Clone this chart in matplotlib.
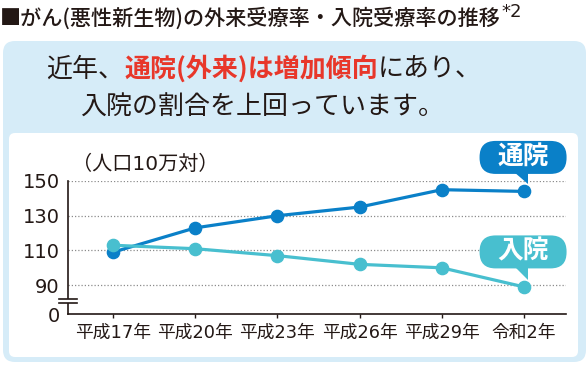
import matplotlib
matplotlib.use("Agg")
import matplotlib.pyplot as plt
from matplotlib.patches import FancyBboxPatch, Polygon, Rectangle
from matplotlib.lines import Line2D

plt.rcParams['font.family'] = ['Noto Sans CJK JP', 'DejaVu Sans']
MIX = ['DejaVu Sans', 'Noto Sans CJK JP']   # wide digits + CJK glyphs

# ---- data ----
years = ["平成17年", "平成20年", "平成23年", "平成26年", "平成29年", "令和2年"]
outpatient = [109, 123, 130, 135, 145, 144]   # 通院(外来)
inpatient = [113, 111, 107, 102, 100, 89]     # 入院
yticks = [90, 110, 130, 150]
zero_pos = 73.4   # where the "0" label sits below the axis break

title = "■がん(悪性新生物)の外来受療率・入院受療率の推移"
title_sup = "*2"
unit_label = "（人口10万対）"

C_OUT = "#0a80c8"
C_IN = "#48bfcf"
C_TXT = "#231815"
C_RED = "#e8372a"
C_PANEL = "#d6ecf8"

W, H = 586, 366
fig = plt.figure(figsize=(W / 100, H / 100), dpi=100)
renderer = fig.canvas.get_renderer()

# overlay axes in pixel coordinates (origin top-left)
bg = fig.add_axes([0, 0, 1, 1], zorder=0)
bg.set_xlim(0, W)
bg.set_ylim(H, 0)
bg.axis("off")

bg.add_patch(FancyBboxPatch((3, 41), 583, 321, boxstyle="round,pad=0,rounding_size=12",
                            fc=C_PANEL, ec="none"))
bg.add_patch(FancyBboxPatch((9, 133), 569, 224, boxstyle="round,pad=0,rounding_size=6",
                            fc="white", ec="none"))

bg.text(0, 19, title, fontsize=15.2, fontweight="medium", color=C_TXT, va="center", ha="left")
bg.text(501, 12, title_sup, fontsize=13, color=C_TXT, va="center", ha="left", family=MIX)

# headline line 1 (mixed colours), laid out piece by piece
fs_h = 18.7
pieces = [("近年、", C_TXT, "normal"),
          ("通院(外来)は増加傾向", C_RED, "bold"),
          ("にあり、", C_TXT, "normal")]
arts = []
total = 0
for s, c, w in pieces:
    t = bg.text(0, 69, s, fontsize=fs_h, color=c, fontweight=w, ha="left", va="center")
    wd = t.get_window_extent(renderer).width
    arts.append((t, wd))
    total += wd
cursor = 264 - total / 2
for t, wd in arts:
    t.set_x(cursor)
    cursor += wd

bg.text(262, 107, "入院の割合を上回っています。", fontsize=fs_h, color=C_TXT, ha="center", va="center")

bg.text(72, 164, unit_label, fontsize=14.5, color=C_TXT, ha="left", va="center", family=MIX)

# ---- chart axes ----
ax = fig.add_axes([68 / W, (H - 314) / H, (566 - 68) / W, (314 - 181) / H], zorder=1)
ax.set_facecolor("none")
x = list(range(len(years)))
ax.set_xlim(-0.547, 5.51)
ax.set_ylim(zero_pos, 150)

for v in yticks:
    ax.axhline(v, color="#8c8c8c", lw=0.9, ls=(0, (1, 1.6)), zorder=1)

ax.plot(x, outpatient, color=C_OUT, lw=2.3, marker="o", ms=8.8, zorder=3, clip_on=False)
ax.plot(x, inpatient, color=C_IN, lw=2.3, marker="o", ms=8.8, zorder=4, clip_on=False)

for s in ["top", "right"]:
    ax.spines[s].set_visible(False)
for s in ["left", "bottom"]:
    ax.spines[s].set_color(C_TXT)
    ax.spines[s].set_linewidth(1.2)

ax.set_xticks(x)
ax.set_xticklabels(years, fontsize=12.8, color=C_TXT, family=MIX)
ax.tick_params(axis="x", length=3, width=1, color=C_TXT, pad=4)
ax.set_yticks([zero_pos] + yticks)
ax.set_yticklabels(["0"] + [str(v) for v in yticks], fontsize=14, color=C_TXT, family=MIX)
ax.tick_params(axis="y", length=0, pad=6)

# axis break marks
fig.canvas.draw()
x0, _ = ax.transAxes.transform((0, 0))
_, yb = ax.transData.transform((0, zero_pos + (90 - zero_pos) * 0.45))
fig.add_artist(Rectangle((x0 - 3, yb - 2), 6, 4, transform=None, fc="white", ec="none", zorder=5))
for dy in (-2, 2):
    fig.add_artist(Line2D([x0 - 9, x0 + 9], [yb + dy, yb + dy], transform=None,
                          color=C_TXT, lw=1.2, zorder=6))

# bubbles
def bubble(label, xi, val, color, up):
    px, py = ax.transData.transform((xi, val))
    cx, cy = px - 1, py + up
    bw, bh = 87, 33
    fig.add_artist(FancyBboxPatch((cx - bw / 2, cy - bh / 2), bw, bh, transform=None,
                                  boxstyle="round,pad=0,rounding_size=16", fc=color, ec="none", zorder=7))
    fig.add_artist(Polygon([(px - 10, cy - bh / 2 + 2), (px + 4, cy - bh / 2 + 2), (px + 4, py + 7)],
                           closed=True, transform=None, fc=color, ec="none", zorder=7))
    fig.text(cx, cy + 1, label, transform=None, fontsize=18.5, fontweight="bold", color="white",
             ha="center", va="center", zorder=8)

bubble("通院", 5, outpatient[-1], C_OUT, 34)
bubble("入院", 5, inpatient[-1], C_IN, 35)

fig.savefig("out.png", dpi=100)
